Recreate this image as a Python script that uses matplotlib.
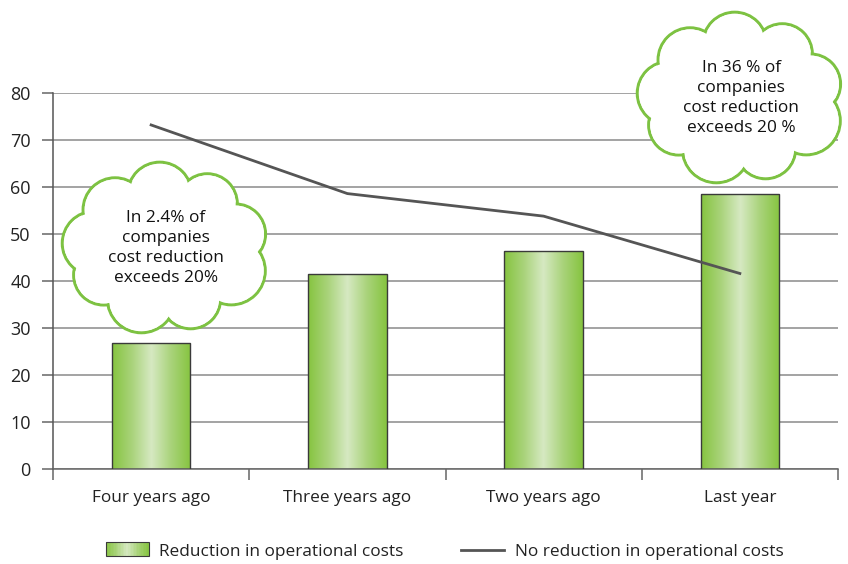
import matplotlib
matplotlib.use("Agg")
import matplotlib.pyplot as plt
import numpy as np
from matplotlib.patches import Circle, Ellipse, Rectangle
from matplotlib.legend_handler import HandlerBase
from matplotlib.colors import LinearSegmentedColormap
from matplotlib.lines import Line2D

categories = ["Four years ago", "Three years ago", "Two years ago", "Last year"]
reduction = [26.8, 41.5, 46.4, 58.5]
no_reduction = [73.2, 58.6, 53.8, 41.6]
yticks = [0, 10, 20, 30, 40, 50, 60, 70, 80]
cloud_texts = ["In 2.4% of\ncompanies\ncost reduction\nexceeds 20%",
               "In 36 % of\ncompanies\ncost reduction\nexceeds 20 %"]

plt.rcParams['font.family'] = ['Open Sans', 'DejaVu Sans']
FS = 12.4

W, H = 848, 564
fig = plt.figure(figsize=(W/100, H/100), dpi=100)
ax = fig.add_axes([53/W, (H-469)/H, (838-53)/W, (469-93)/H])

cmap = LinearSegmentedColormap.from_list("g", ["#86c440", "#a9d37a", "#d6e9c2", "#a9d37a", "#86c440"])

x = np.arange(len(categories))
bars = ax.bar(x, reduction, width=0.4, color="none", edgecolor="#3a3a3a", linewidth=1.0, zorder=3)
grad = np.linspace(0, 1, 256).reshape(1, -1)
for b in bars:
    im = ax.imshow(grad, cmap=cmap, aspect="auto", extent=[b.get_x(), b.get_x()+b.get_width(), 0, b.get_height()], zorder=2.5)
    im.set_clip_path(b)

ax.plot(x, no_reduction, color="#555555", lw=2, zorder=4)

ax.set_xlim(-0.5, len(categories)-0.5)
ax.set_ylim(0, 80)
ax.set_yticks(yticks)
ax.set_yticklabels([str(t) for t in yticks], fontsize=FS+0.6, color="#222222")
ax.yaxis.grid(True, color="#8a8a8a", lw=1.1, zorder=0)
ax.set_axisbelow(True)
ax.set_xticks(np.arange(-0.5, len(categories), 1.0))
ax.set_xticklabels([])
ax.set_xticks(x, minor=True)
ax.set_xticklabels(categories, minor=True, fontsize=FS, color="#222222")
ax.tick_params(axis="x", which="minor", length=0, pad=15)
ax.tick_params(axis="x", which="major", length=8, color="#666666", width=1.1)
ax.tick_params(axis="y", length=8, color="#666666", width=1.1, pad=8)
for s in ["top", "right"]:
    ax.spines[s].set_visible(False)
ax.spines["left"].set_color("#555555")
ax.spines["bottom"].set_color("#666666")
ax.spines["left"].set_linewidth(1.1)
ax.spines["bottom"].set_linewidth(1.1)

class GradHandler(HandlerBase):
    def create_artists(self, legend, orig_handle, xd, yd, width, height, fontsize, trans):
        arts = []
        n = 30
        for i in range(n):
            c = cmap((i + 0.5) / n)
            arts.append(Rectangle((xd + width*i/n, yd), width/n + 0.3, height, facecolor=c, edgecolor="none", transform=trans))
        arts.append(Rectangle((xd, yd), width, height, facecolor="none", edgecolor="#3a3a3a", lw=0.8, transform=trans))
        return arts

bar_handle = Rectangle((0, 0), 1, 1)
line_handle = Line2D([], [], color="#555555", lw=2)
fig.legend([bar_handle, line_handle], ["Reduction in operational costs", "No reduction in operational costs"],
           handler_map={Rectangle: GradHandler()}, loc="center", bbox_to_anchor=(444.5/W, 1-552/H),
           ncol=2, frameon=False, fontsize=FS, handlelength=2.5, handleheight=0.85,
           columnspacing=3.37, handletextpad=0.6, labelcolor="#222222")

# overlay axes in pixel coordinates for the clouds
ov = fig.add_axes([0, 0, 1, 1])
ov.set_xlim(0, W)
ov.set_ylim(H, 0)
ov.axis("off")

def cloud(cx, cy, rx, ry, lobes, text):
    green = "#7dc242"
    pts = []
    for (ang, r) in lobes:
        a = np.deg2rad(ang)
        pts.append((cx + rx*np.cos(a), cy - ry*np.sin(a), r))
    for px, py, r in pts:
        ov.add_patch(Circle((px, py), r, facecolor="white", edgecolor=green, lw=2.2, zorder=5))
    for px, py, r in pts:
        ov.add_patch(Circle((px, py), r-1.6, facecolor="white", edgecolor="none", zorder=6))
    ov.add_patch(Ellipse((cx, cy), 2*rx, 2*ry, facecolor="white", edgecolor="none", zorder=6))
    ov.text(cx, cy, text, ha="center", va="center", fontsize=FS, color="#111111", linespacing=1.35, zorder=7)

lobes = [(95, 32), (55, 30), (15, 30), (-25, 34), (-70, 30), (-110, 34), (-150, 30), (175, 32), (135, 32)]
cloud(166, 248, 72, 54, lobes, cloud_texts[0])
cloud(741, 98, 72, 54, lobes, cloud_texts[1])

fig.savefig("out.png", dpi=100)
